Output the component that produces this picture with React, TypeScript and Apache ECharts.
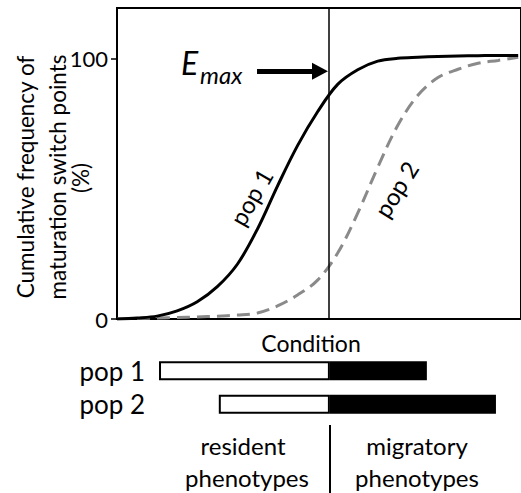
import React, { useEffect, useRef } from "react";
import * as echarts from "echarts";

// Cumulative curves (condition on a 0..100 scale, cumulative %)
const condition = [0, 5, 10, 15, 20, 25, 30, 35, 40, 45, 50, 55, 60, 65, 70, 75, 80, 85, 90, 95, 100];
const pop1 = [0, 0.4, 1.1, 3.1, 6.6, 12.4, 21, 34.5, 51, 66.5, 79.5, 90, 95.6, 98.9, 100, 100.4, 100.7, 100.9, 101, 101.1, 101.1];
const pop2 = [0, 0.2, 0.4, 0.6, 0.8, 1.1, 1.5, 2.3, 5, 9.2, 14.9, 25.3, 40.6, 58.2, 74.3, 85.8, 92.6, 95.8, 98.1, 99.2, 100.4];
const yTicks = [0, 100];

// E_max threshold and arrow
const threshold = 52.7;
const emaxLevel = 95;
const arrowStart = 34.9;
const arrowEnd = 50.6;

// phenotype bars
const barCategories = ["pop 1", "pop 2"];
const barStart = [10.4, 25.2];
const barEnd = [76.7, 93.8];

const FONT = "Lato, 'Open Sans', sans-serif";

export default function App() {
  const ref = useRef<HTMLDivElement>(null);
  useEffect(() => {
    if (!ref.current) return;
    const chart = echarts.init(ref.current, undefined, { renderer: "svg" });
    const zip = (xs: number[], ys: number[]) => xs.map((x, i) => [x, ys[i]]);
    const resident = barStart.map((s) => threshold - s);
    const migratory = barEnd.map((e) => e - threshold);

    chart.setOption({
      animation: false,
      textStyle: { fontFamily: FONT },
      grid: [
        { left: 117, right: -3, top: 8, height: 311, show: true, borderColor: "#000", borderWidth: 2, backgroundColor: "transparent" },
        { left: 117, right: 0, top: 354, height: 67 },
      ],
      xAxis: [
        {
          type: "value", gridIndex: 0, min: 0, max: 100.7,
          axisLine: { show: true, lineStyle: { color: "#000", width: 2 } },
          axisTick: { show: false }, axisLabel: { show: false }, splitLine: { show: false },
        },
        {
          type: "value", gridIndex: 1, min: 0, max: 100,
          axisLine: { show: false }, axisTick: { show: false }, axisLabel: { show: false }, splitLine: { show: false },
        },
      ],
      yAxis: [
        {
          type: "value", gridIndex: 0, min: 0, max: 119.3,
          axisLine: { show: true, lineStyle: { color: "#000", width: 2 } },
          axisTick: { show: true, length: 6, customValues: yTicks, lineStyle: { color: "#000", width: 1.5 } },
          axisLabel: { customValues: yTicks, color: "#000", fontSize: 22, margin: 9, fontFamily: FONT },
          splitLine: { show: false },
        },
        {
          type: "category", gridIndex: 1, data: barCategories, inverse: true,
          axisLine: { show: false }, axisTick: { show: false },
          axisLabel: { color: "#000", fontSize: 26, margin: -28, interval: 0, hideOverlap: false, fontFamily: FONT },
        },
      ],
      series: [
        {
          name: "pop 1", type: "line", xAxisIndex: 0, yAxisIndex: 0,
          data: zip(condition, pop1), smooth: 0.35, showSymbol: false,
          lineStyle: { color: "#000", width: 3 }, z: 3,
          markLine: {
            silent: true, symbol: ["none", "none"], label: { show: false },
            lineStyle: { color: "#000", width: 1.5, type: "solid" },
            data: [{ xAxis: threshold }],
          },
        },
        {
          name: "pop 2", type: "line", xAxisIndex: 0, yAxisIndex: 0,
          data: zip(condition, pop2), smooth: 0.35, showSymbol: false,
          lineStyle: { color: "#8a8a8a", width: 3, type: [13, 7] }, z: 2,
          markLine: {
            silent: true, symbol: ["none", "triangle"], symbolSize: [17, 16], label: { show: false },
            lineStyle: { color: "#000", width: 5, type: "solid" },
            itemStyle: { color: "#000" },
            data: [[{ coord: [arrowStart, emaxLevel] }, { coord: [arrowEnd, emaxLevel] }]],
          },
        },
        {
          name: "base", type: "bar", xAxisIndex: 1, yAxisIndex: 1, stack: "p",
          data: barStart, barWidth: 19, itemStyle: { color: "transparent" }, silent: true,
        },
        {
          name: "resident", type: "bar", xAxisIndex: 1, yAxisIndex: 1, stack: "p",
          data: resident, barWidth: 19, itemStyle: { color: "#fff", borderColor: "#000", borderWidth: 2 },
        },
        {
          name: "migratory", type: "bar", xAxisIndex: 1, yAxisIndex: 1, stack: "p",
          data: migratory, barWidth: 19, itemStyle: { color: "#000", borderColor: "#000", borderWidth: 2 },
        },
      ],
      graphic: [
        { type: "text", x: 25, y: 177, rotation: Math.PI / 2, style: { text: "Cumulative frequency of", font: `22.5px ${FONT}`, fill: "#000", align: "center", verticalAlign: "middle" } },
        { type: "text", x: 57, y: 177, rotation: Math.PI / 2, style: { text: "maturation switch points", font: `22.5px ${FONT}`, fill: "#000", align: "center", verticalAlign: "middle" } },
        { type: "text", x: 80, y: 178, rotation: Math.PI / 2, style: { text: "(%)", font: `22.5px ${FONT}`, fill: "#000", align: "center", verticalAlign: "middle" } },
        { type: "text", x: 181, y: 62, style: { text: "E", font: `italic 32px ${FONT}`, fill: "#000", align: "left", verticalAlign: "middle" } },
        { type: "text", x: 200, y: 74, style: { text: "max", font: `italic 24px ${FONT}`, fill: "#000", align: "left", verticalAlign: "middle" } },
        { type: "text", x: 251, y: 197, rotation: (60 * Math.PI) / 180, style: { text: "pop 1", font: `24px ${FONT}`, fill: "#000", align: "center", verticalAlign: "middle" } },
        { type: "text", x: 396, y: 189, rotation: (58 * Math.PI) / 180, style: { text: "pop 2", font: `24px ${FONT}`, fill: "#000", align: "center", verticalAlign: "middle" } },
        { type: "text", x: 311, y: 343, style: { text: "Condition", font: `23px ${FONT}`, fill: "#000", align: "center", verticalAlign: "middle" } },
        { type: "line", shape: { x1: 330, y1: 425, x2: 330, y2: 493 }, style: { stroke: "#000", lineWidth: 2 } },
        { type: "text", x: 243, y: 445, style: { text: "resident", font: `24px ${FONT}`, fill: "#000", align: "center", verticalAlign: "middle" } },
        { type: "text", x: 247, y: 477, style: { text: "phenotypes", font: `24px ${FONT}`, fill: "#000", align: "center", verticalAlign: "middle" } },
        { type: "text", x: 417, y: 445, style: { text: "migratory", font: `24px ${FONT}`, fill: "#000", align: "center", verticalAlign: "middle" } },
        { type: "text", x: 417, y: 477, style: { text: "phenotypes", font: `24px ${FONT}`, fill: "#000", align: "center", verticalAlign: "middle" } },
      ],
    });
    return () => chart.dispose();
  }, []);
  return (
    <div
      ref={ref}
      style={{ position: "absolute", left: 0, top: 0, width: 521, height: 493, background: "#fff" }}
    />
  );
}
